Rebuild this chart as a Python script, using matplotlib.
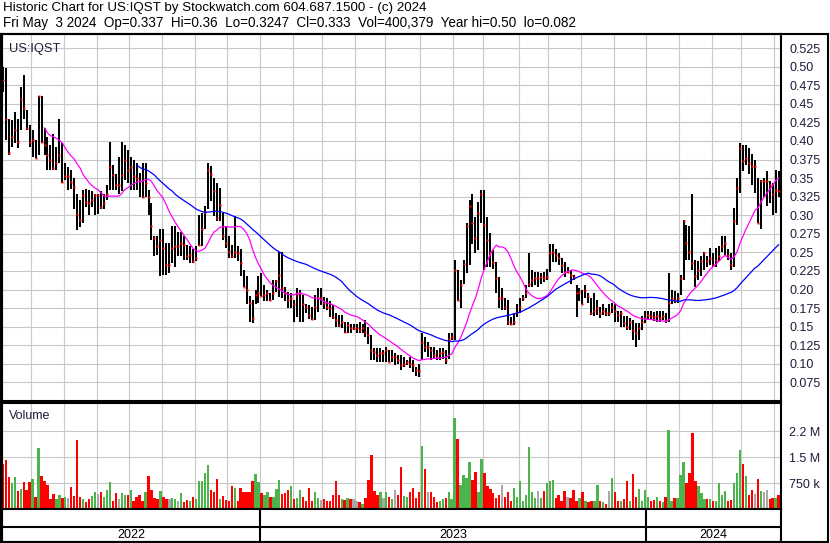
import numpy as np
import pandas as pd
import matplotlib
matplotlib.use('Agg')
import matplotlib.pyplot as plt
from matplotlib.lines import Line2D

plt.rcParams['font.family'] = ['Liberation Sans', 'DejaVu Sans']

W, H = 830, 543

TITLE = 'Historic Chart for US:IQST by Stockwatch.com 604.687.1500 - (c) 2024'
SUBTITLE = ('Fri May  3 2024  Op=0.337  Hi=0.36  Lo=0.3247  Cl=0.333  '
            'Vol=400,379  Year hi=0.50  lo=0.082')

# prices in thousandths of a dollar, one bar per two trading days
high = [
    500, 498, 430, 428, 439, 430, 473, 489, 442, 421, 415, 401, 460, 460, 417, 406, 394, 410, 392, 430,
    397, 370, 365, 361, 350, 329, 320, 334, 336, 334, 332, 329, 329, 332, 329, 341, 399, 368, 356, 379,
    399, 394, 388, 379, 374, 370, 357, 370, 370, 334, 316, 272, 272, 281, 281, 263, 263, 285, 285, 278,
    278, 272, 260, 258, 254, 258, 301, 303, 312, 370, 366, 350, 343, 337, 303, 285, 272, 260, 299, 258,
    254, 227, 218, 191, 186, 200, 218, 222, 206, 199, 195, 213, 213, 251, 251, 204, 197, 195, 186, 202,
    199, 193, 181, 179, 177, 193, 202, 202, 190,
    188, 184, 179, 168, 166, 166, 157, 157, 154, 154, 154, 157,
    154, 159, 150, 139, 121, 121, 121, 118, 123, 118, 118, 114, 112, 112, 109, 105, 109, 105, 96, 100,
    141, 136, 130, 123, 123, 118, 121, 121, 118, 141, 141, 240, 226, 213, 240, 289, 321, 329, 298, 318,
    334, 334, 298, 276, 253, 237, 217, 202, 188, 186, 163, 168, 181, 188, 193, 206, 249, 226, 224, 224,
    222, 224, 228, 262, 262, 255, 249, 242, 237, 231, 226, 219, 206, 202, 199, 206, 195, 189, 195, 186,
    177, 180, 175, 180, 182, 180, 171, 171, 164, 164, 162, 159, 155, 155, 164, 171, 171, 171, 170,
    171, 171, 171, 168, 222, 200, 198, 195, 220, 294, 287, 285, 328, 240, 238, 245, 251, 245, 256, 249, 256, 258,
    272, 272, 254, 249, 310, 350, 397, 395, 395, 391, 382, 375, 350, 348, 350, 359, 346, 343, 361, 360,
]
low = [
    466, 401, 381, 392, 397, 390, 415, 430, 415, 392, 379, 377, 381, 397, 381, 361, 361, 361, 361, 370,
    343, 347, 334, 336, 309, 280, 284, 289, 311, 300, 311, 300, 302, 309, 309, 320, 334, 334, 334, 329,
    332, 347, 343, 334, 334, 334, 325, 323, 325, 301, 267, 245, 247, 218, 220, 220, 222, 236, 231, 245,
    245, 240, 240, 236, 236, 238, 258, 258, 281, 308, 319, 299, 292, 292, 267, 256, 242, 242, 242, 238,
    218, 204, 180, 157, 155, 180, 182, 191, 184, 184, 184, 186, 197, 190, 188, 184, 175, 175, 157, 163,
    157, 157, 168, 161, 159, 159, 170, 179, 174,
    172, 163, 161, 150, 150, 148, 141, 141, 141, 145, 141, 141,
    141, 136, 127, 105, 105, 103, 103, 103, 103, 103, 103, 98, 100, 92, 96, 98, 94, 89, 83, 82,
    105, 116, 109, 105, 107, 105, 105, 107, 100, 107, 132, 132, 184, 175, 208, 222, 233, 262, 249, 253,
    289, 226, 231, 231, 228, 195, 175, 172, 172, 152, 152, 152, 163, 168, 184, 188, 204, 204, 206, 204,
    208, 210, 213, 224, 237, 237, 233, 222, 217, 222, 208, 213, 163, 184, 181, 188, 182, 166, 164, 166,
    162, 166, 164, 164, 168, 157, 157, 150, 150, 146, 146, 132, 123, 132, 146, 155, 159, 159, 158,
    157, 157, 159, 155, 157, 180, 182, 182, 193, 213, 240, 240, 227, 204, 213, 218, 227, 231, 233, 231, 231, 238,
    251, 245, 240, 227, 231, 287, 330, 359, 368, 355, 341, 330, 290, 281, 325, 312, 316, 301, 303, 325,
]
close = [
    482, 430, 384, 406, 415, 399, 457, 444, 417, 399, 401, 377, 460, 399, 394, 381, 374, 363, 370, 381,
    345, 353, 353, 345, 338, 302, 293, 327, 318, 316, 320, 327, 327, 311, 316, 329, 365, 354, 341, 341,
    354, 374, 361, 365, 353, 350, 346, 325, 343, 325, 285, 269, 258, 267, 256, 233, 233, 256, 258, 258,
    263, 260, 245, 247, 238, 242, 260, 281, 305, 361, 355, 332, 296, 314, 272, 263, 251, 245, 251, 249,
    236, 204, 200, 182, 162, 193, 195, 191, 193, 195, 186, 195, 211, 219, 202, 195, 186, 188, 181, 193,
    195, 181, 177, 166, 161, 177, 188, 188, 182,
    177, 175, 163, 159, 152, 157, 143, 152, 148, 148, 148, 145,
    148, 143, 139, 118, 116, 112, 114, 114, 118, 103, 109, 109, 105, 98, 100, 103, 100, 98, 92, 90,
    130, 123, 123, 118, 112, 109, 114, 116, 105, 134, 136, 226, 186, 206, 235, 285, 312, 289, 269, 303,
    329, 287, 267, 251, 237, 215, 188, 188, 177, 157, 154, 157, 170, 177, 188, 195, 208, 213, 215, 215,
    217, 215, 217, 249, 251, 246, 242, 233, 224, 224, 219, 217, 195, 197, 181, 199, 191, 168, 171, 175,
    168, 171, 168, 168, 177, 171, 166, 168, 155, 150, 157, 146, 141, 148, 157, 162, 166, 164, 163,
    164, 162, 164, 159, 182, 189, 186, 189, 215, 292, 263, 250, 236, 218, 227, 238, 249, 238, 242, 233, 240, 245,
    258, 263, 247, 233, 292, 337, 391, 373, 377, 370, 366, 366, 290, 346, 346, 346, 341, 328, 334, 333,
]
# volume in thousands of shares
volume = [
    1310, 1420, 920, 750, 920, 530, 580, 780, 560, 770, 880, 340, 1760, 940, 820, 700, 300, 420, 290, 400,
    330, 360, 320, 640, 380, 1980, 340, 300, 200, 290, 380, 490, 420, 480, 350, 560, 770, 230, 450, 300,
    470, 390, 400, 560, 240, 360, 400, 220, 500, 940, 560, 320, 300, 510, 360, 280, 280, 320, 280, 230,
    450, 210, 250, 230, 360, 300, 820, 820, 1050, 1270, 560, 500, 880, 280, 380, 250, 240, 650, 620, 240,
    620, 500, 500, 480, 820, 1000, 780, 450, 400, 500, 360, 340, 590, 850, 420, 450, 560, 660, 300, 330,
    540, 360, 230, 600, 240, 480, 330, 250, 300,
    230, 230, 410, 820, 400, 280, 250, 320, 300, 280, 230, 210,
    150, 320, 840, 1570, 530, 390, 500, 320, 490, 360, 300, 560, 400, 1220, 380, 360, 490, 620, 330, 500,
    1830, 1160, 490, 490, 360, 210, 230, 280, 320, 500, 280, 2630, 2020, 700, 980, 900, 1370, 830, 1070, 500,
    1440, 1030, 660, 580, 450, 320, 410, 680, 360, 490, 230, 620, 360, 820, 230, 410, 1800, 480, 320, 510,
    320, 530, 750, 810, 850, 320, 400, 230, 510, 340, 320, 540, 230, 320, 490, 230, 190, 230, 230, 700,
    230, 190, 150, 510, 900, 490, 230, 230, 300, 820, 230, 1000, 360, 580, 230, 560, 360, 230, 250,
    360, 230, 190, 360, 2280, 230, 320, 320, 970, 1370, 750, 1050, 2190, 820, 660, 450, 300, 290, 280, 230, 230, 750,
    400, 530, 230, 270, 750, 1050, 1700, 1310, 960, 400, 560, 420, 880, 530, 480, 560, 300, 320, 320, 400,
]

dates = pd.bdate_range('2022-05-04', '2024-05-03')[::2]

df = pd.DataFrame({
    'high': np.array(high) / 1000,
    'low': np.array(low) / 1000,
    'close': np.array(close) / 1000,
    'volume': np.array(volume) * 1000,
}, index=dates)
df['ma_short'] = df['close'].rolling(15).mean()
df['ma_long'] = df['close'].rolling(46).mean()

x = np.arange(len(df))
xlim = (-0.3, len(df) - 0.2)

# month and year boundaries on the trading-day axis
month_change = np.nonzero(df.index.month[1:] != df.index.month[:-1])[0] + 1
month_pos = month_change - 0.5
year_change = np.nonzero(df.index.year[1:] != df.index.year[:-1])[0] + 1
year_pos = year_change - 0.5

# volume bar colours: up green, down red, unchanged grey
diff = df['close'].diff().fillna(-1)
vol_colors = np.where(diff > 0, '#4cb44c', np.where(diff < 0, '#ff0000', '#a8a8a8'))

GRID = '#c8c8c8'
LABEL = '#1e1e3c'


def fx(px):
    return px / W


def fy(py):
    return 1 - py / H


fig = plt.figure(figsize=(W / 100, H / 100), dpi=100)
fig.patch.set_facecolor('white')

left, right = 2, 781
ax = fig.add_axes([fx(left), fy(401), (right - left) / W, (401 - 34) / H])
axv = fig.add_axes([fx(left), fy(509), (right - left) / W, (509 - 403) / H])
axd = fig.add_axes([fx(left), fy(542), (right - left) / W, (542 - 509) / H])

# price panel
ax.vlines(x, df['low'], df['high'], colors='black', lw=1.45, zorder=3)
ax.plot(x, df['close'], ls='none', marker='s', ms=1.9, mec='none', mfc='red', zorder=4)
ax.plot(x, df['ma_short'], color='#ff00ff', lw=0.9, zorder=5)
ax.plot(x, df['ma_long'], color='#0000ff', lw=0.9, zorder=5)

price_ticks = np.round(np.arange(0.075, 0.5251, 0.025), 3)
price_labels = []
for v in price_ticks:
    s = f'{v:.3f}'
    if s.endswith('0'):
        s = s[:-1]
    price_labels.append(s)

ax.set_xlim(*xlim)
ax.set_ylim(0.050, 0.544)
ax.set_yticks(price_ticks)
ax.set_yticklabels(price_labels)
ax.set_xticks(month_pos)
ax.yaxis.tick_right()
ax.tick_params(axis='y', length=0, pad=6, labelsize=9, labelcolor=LABEL)
ax.tick_params(axis='x', length=0, labelbottom=False)
ax.grid(True, color=GRID, lw=0.8)
ax.set_axisbelow(True)
ax.text(0.009, 0.975, 'US:IQST', transform=ax.transAxes, fontsize=9.3,
        va='top', ha='left', color='#1e1e3c')

# volume panel
axv.bar(x, df['volume'], width=0.8, color=vol_colors, lw=0, zorder=3)
axv.set_xlim(*xlim)
axv.set_ylim(0, 3.06e6)
axv.set_yticks([750000, 1500000, 2250000])
axv.set_yticklabels(['750 k', '1.5 M', '2.2 M'])
axv.set_xticks(month_pos)
axv.yaxis.tick_right()
axv.tick_params(axis='y', length=0, pad=6, labelsize=9, labelcolor=LABEL)
axv.tick_params(axis='x', length=0, labelbottom=False)
axv.grid(True, color=GRID, lw=0.8)
axv.set_axisbelow(True)
axv.text(0.009, 0.93, 'Volume', transform=axv.transAxes, fontsize=9,
         va='top', ha='left', color='#1e1e3c')

# date strip: two rows, year boundaries and year names
axd.set_xlim(*xlim)
axd.set_ylim(0, 33)
axd.set_xticks([])
axd.set_yticks([])
axd.axhline(15, color='black', lw=1.5)
for p in year_pos:
    axd.axvline(p, color='black', lw=1.5)
edges = [xlim[0]] + list(year_pos) + [xlim[1]]
years = [df.index.year[0]] + list(df.index.year[year_change])
for a, b, yr in zip(edges[:-1], edges[1:], years):
    axd.text((a + b) / 2, 7.3, str(yr), ha='center', va='center', fontsize=9)

for a in (ax, axv, axd):
    for sp in a.spines.values():
        sp.set_color('black')
        sp.set_linewidth(1.5)

# outer frame around the chart and the right-hand label column
frame = dict(color='black', lw=1.5, transform=fig.transFigure)
fig.add_artist(Line2D([fx(1), fx(827.5)], [fy(34), fy(34)], **frame))
fig.add_artist(Line2D([fx(827.5), fx(827.5)], [fy(34), fy(542)], **frame))
fig.add_artist(Line2D([fx(1), fx(827.5)], [fy(542), fy(542)], **frame))
fig.add_artist(Line2D([fx(1), fx(1)], [fy(34), fy(542)], color='black', lw=2.2,
                      transform=fig.transFigure))

fig.text(fx(3), fy(8), TITLE, fontsize=9.6, va='center', ha='left')
fig.text(fx(3), fy(23), SUBTITLE, fontsize=9.75, va='center', ha='left')

fig.savefig('out.png', dpi=100)
